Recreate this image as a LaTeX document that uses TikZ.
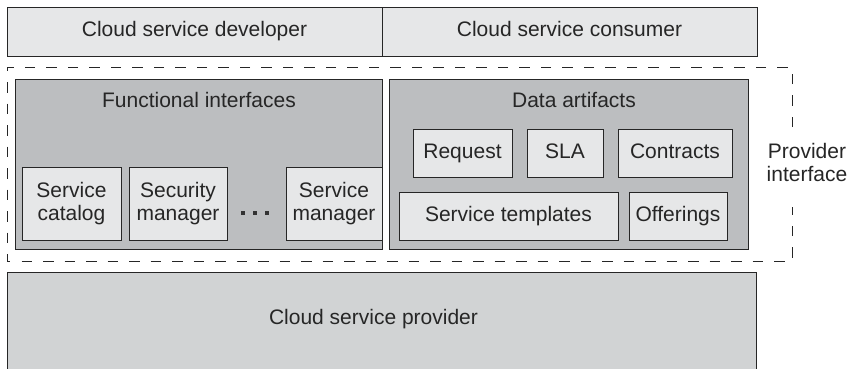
\documentclass[tikz,border=0pt]{standalone}
\usepackage{fontspec}
\setmainfont{Liberation Sans}
\begin{document}
\begin{tikzpicture}[x=1pt,y=-1pt,
  txt/.style={font=\fontsize{21}{22.5}\selectfont, text=black!85, inner sep=0pt},
  boxbase/.style={draw=black!85, line width=1pt, inner sep=0pt, txt, text height=15pt, text depth=4.5pt},
  lightbox/.style={boxbase, fill=lightfill},
  darkbox/.style={boxbase, fill=darkfill},
  provbox/.style={boxbase, fill=provfill},
  twoline/.style={boxbase, fill=lightfill, align=center, text height=, text depth=},
  dashframe/.style={draw=black!85, line width=0.9pt, dash pattern=on 10.5pt off 11pt},
  dotsq/.style={fill=black!80, draw=none, minimum size=4pt, inner sep=0pt}
]
\definecolor{lightfill}{HTML}{E6E7E8}
\definecolor{darkfill}{HTML}{BCBEC0}
\definecolor{provfill}{HTML}{D1D3D4}
\useasboundingbox (0,0) rectangle (852,368);

% top bar
\node[lightbox, minimum width=375pt, minimum height=49pt] (dev) at (194.5,31.5) {Cloud service developer};
\node[lightbox, minimum width=375pt, minimum height=49pt] (cons) at (569.5,31.5) {Cloud service consumer};

% provider interface frame
\coordinate (f1) at (792,127);
\coordinate (f2) at (792,67);
\coordinate (f3) at (7,67);
\coordinate (f4) at (7,261);
\coordinate (f5) at (792,261);
\coordinate (f6) at (792,207);
\draw[dashframe] (f1) -- (f2) -- (f3) -- (f4) -- (f5) -- (f6);
\node[txt, align=center] (pi) at (807,162.5) {Provider\\interface};

% functional interfaces
\node[darkbox, minimum width=367pt, minimum height=170pt] (fi) at (198.5,164) {};
\node[txt, anchor=base] (fil) at (199,107) {Functional interfaces};
\node[twoline, minimum width=99pt, minimum height=73pt] (sc) at (71.5,203.5) {Service\\catalog};
\node[twoline, minimum width=98pt, minimum height=73pt] (sm) at (178,203.5) {Security\\manager};
\node[twoline, minimum width=96pt, minimum height=73pt] (svm) at (334,203.5) {Service\\manager};
\node[dotsq] (d1) at (243,213) {};
\node[dotsq] (d2) at (254.7,213) {};
\node[dotsq] (d3) at (267,213) {};

% data artifacts
\node[darkbox, minimum width=359pt, minimum height=170pt] (da) at (568.5,164) {};
\node[txt, anchor=base] (dal) at (574,107) {Data artifacts};
\node[lightbox, minimum width=99pt, minimum height=48pt] (req) at (462.5,153) {Request};
\node[lightbox, minimum width=76pt, minimum height=48pt] (sla) at (565,153) {SLA};
\node[lightbox, minimum width=114pt, minimum height=48pt] (con) at (675,153) {Contracts};
\node[lightbox, minimum width=219pt, minimum height=48pt] (st) at (508.5,216) {Service templates};
\node[lightbox, minimum width=98pt, minimum height=48pt] (off) at (678,216) {Offerings};

% provider
\node[provbox, minimum width=749pt, minimum height=100pt] (cp) at (381.5,322) {};
\node[txt, anchor=base] (cpl) at (373.5,324) {Cloud service provider};
\end{tikzpicture}
\end{document}
